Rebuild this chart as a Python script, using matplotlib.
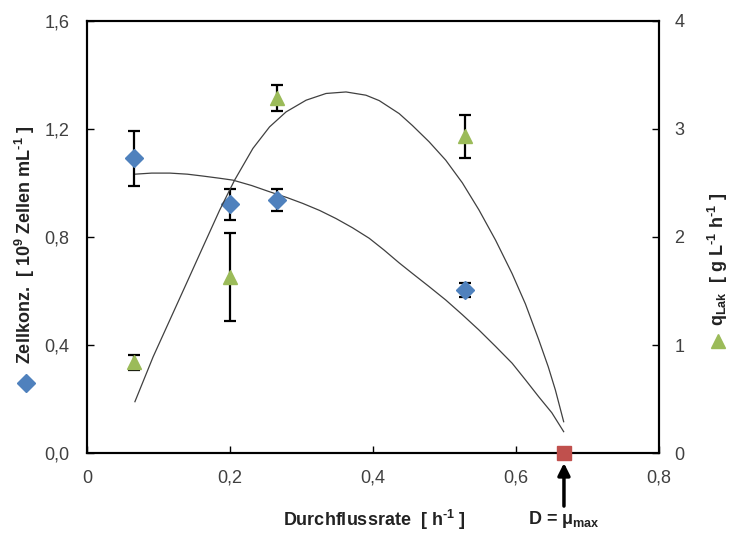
import numpy as np
import matplotlib
matplotlib.use('Agg')
import matplotlib.pyplot as plt
from matplotlib.ticker import FuncFormatter
from matplotlib.lines import Line2D
from matplotlib import rcParams

config = {
    "font.family": 'Liberation Sans',
    "font.size": 13,
    "mathtext.fontset": 'custom',
    "mathtext.rm": 'Liberation Sans',
    "mathtext.bf": 'Liberation Sans:bold',
    "mathtext.it": 'Liberation Sans:italic',
}
rcParams.update(config)

# Messwerte
D = [0.066, 0.200, 0.265, 0.529]              # Durchflussrate [h-1]
zellkonz = [1.09, 0.921, 0.936, 0.603]        # [10^9 Zellen mL-1]
zellkonz_err = [0.10, 0.057, 0.040, 0.025]
q_lak = [0.84, 1.63, 3.28, 2.93]              # [g L-1 h-1]
q_lak_err = [0.07, 0.41, 0.12, 0.20]
mu_max = 0.667

# Modellkurven
kurve_x1 = [0.0666, 0.0900, 0.1154, 0.1400, 0.1619, 0.1850, 0.2037, 0.2300, 0.2550,
            0.2800, 0.3014, 0.3250, 0.3480, 0.3710, 0.3945, 0.4150, 0.4364, 0.4549,
            0.4780, 0.5015, 0.5250, 0.5480, 0.5710, 0.5945, 0.6130, 0.6317, 0.6500,
            0.6666]
kurve_zell = [1.032, 1.036, 1.036, 1.032, 1.025, 1.017, 1.010, 0.990, 0.967,
              0.945, 0.924, 0.898, 0.868, 0.834, 0.795, 0.752, 0.704, 0.665,
              0.617, 0.567, 0.512, 0.456, 0.396, 0.333, 0.272, 0.209, 0.150,
              0.080]
kurve_x2 = [0.0666, 0.0921, 0.1154, 0.1387, 0.1619, 0.1852, 0.2061, 0.2317, 0.2550,
            0.2782, 0.3062, 0.3341, 0.3620, 0.3899, 0.4085, 0.4364, 0.4549, 0.4782,
            0.5015, 0.5248, 0.5480, 0.5713, 0.5945, 0.6131, 0.6317, 0.6450, 0.6550,
            0.6666]
kurve_q = [0.477, 0.892, 1.231, 1.570, 1.909, 2.248, 2.525, 2.818, 3.017,
           3.156, 3.264, 3.326, 3.340, 3.310, 3.260, 3.140, 3.030, 2.880,
           2.710, 2.500, 2.250, 1.970, 1.660, 1.380, 1.050, 0.800, 0.585,
           0.292]

blau = '#4F81BD'
gruen = '#9BBB59'
rot = '#C0504D'
grau = '#404040'


def komma(v, pos):
    return ('%.1f' % v).replace('.', ',')


def komma_x(v, pos):
    if abs(v) < 1e-9:
        return '0'
    return ('%.1f' % v).replace('.', ',')


def plot_chemostat():
    fig = plt.figure(figsize=(7.35, 5.48), dpi=100)
    ax = fig.add_axes([0.1188, 0.1728, 0.7778, 0.7897])
    ax2 = ax.twinx()

    ax.plot(kurve_x1, kurve_zell, color=grau, lw=0.9, zorder=2)
    ax2.plot(kurve_x2, kurve_q, color=grau, lw=0.9, zorder=2)

    ax.errorbar(D, zellkonz, yerr=zellkonz_err, fmt='D', color=blau, ms=9,
                ecolor='black', elinewidth=1.6, capsize=4, capthick=1.6, zorder=3)
    ax2.errorbar(D, q_lak, yerr=q_lak_err, fmt='^', color=gruen, ms=10,
                 ecolor='black', elinewidth=1.6, capsize=4, capthick=1.6, zorder=3)
    ax2.plot([mu_max], [0], 's', color=rot, ms=10, clip_on=False, zorder=5)

    ax.set_xlim(0, 0.8)
    ax.set_ylim(0, 1.6)
    ax2.set_ylim(0, 4)
    ax.set_xticks(np.linspace(0, 0.8, 5))
    ax.set_yticks(np.linspace(0, 1.6, 5))
    ax2.set_yticks(np.arange(0, 5))
    ax.xaxis.set_major_formatter(FuncFormatter(komma_x))
    ax.yaxis.set_major_formatter(FuncFormatter(komma))

    for a in (ax, ax2):
        for s in a.spines.values():
            s.set_linewidth(1.5)
            s.set_color('black')
    ax.tick_params(axis='x', direction='in', length=5, width=1, pad=12, labelcolor=grau, labelsize=13)
    ax.tick_params(axis='y', direction='in', length=5, width=1, pad=13, labelcolor=grau, labelsize=13)
    ax2.tick_params(axis='y', direction='in', length=5, width=1, pad=11, labelcolor=grau, labelsize=13)

    # Achsenbeschriftungen
    fig.text(0.034, 0.335, r'Zellkonz.  [ 10$^\mathbf{9}$ Zellen mL$^\mathbf{‐1}$ ]',
             rotation=90, rotation_mode='anchor', ha='left', va='center',
             fontweight='bold', fontsize=13, color='#222222')
    fig.add_artist(Line2D([0.036], [0.302], marker='D', color=blau, ms=9,
                          transform=fig.transFigure))
    fig.text(0.977, 0.405, r'q$_\mathbf{Lak}$  [ g L$^\mathbf{‐1}$ h$^\mathbf{‐1}$ ]',
             rotation=90, rotation_mode='anchor', ha='left', va='center',
             fontweight='bold', fontsize=13, color='#222222')
    fig.add_artist(Line2D([0.977], [0.378], marker='^', color=gruen, ms=10,
                          transform=fig.transFigure))
    fig.text(0.51, 0.051, r'Durchflussrate  [ h$^\mathbf{‐1}$ ]', ha='center', va='center',
             fontweight='bold', fontsize=13, color='#222222')

    ax.annotate('', xy=(mu_max, 0), xytext=(0, -38), textcoords='offset points',
                arrowprops=dict(arrowstyle='-|>', lw=2.5, color='black',
                                shrinkA=0, shrinkB=7, mutation_scale=18),
                annotation_clip=False)
    ax.annotate(r'D = $\mathbf{\mu}$$_\mathbf{max}$', xy=(mu_max, 0), xytext=(0, -48),
                textcoords='offset points', ha='center', va='center',
                fontweight='bold', fontsize=13, color='#222222', annotation_clip=False)

    plt.savefig('out.png', dpi=100)


if __name__ == '__main__':
    plot_chemostat()
